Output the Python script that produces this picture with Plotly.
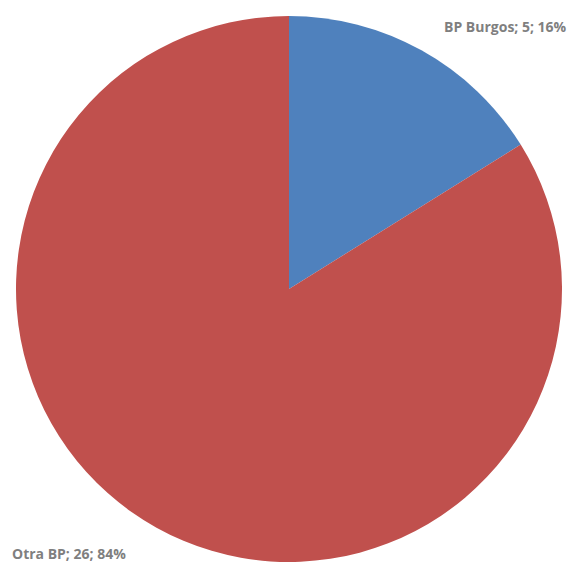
import plotly.graph_objects as go

labels = ["BP Burgos", "Otra BP"]
values = [5, 26]
colors = ["#4F81BD", "#C0504D"]

total = sum(values)
texts = [f"{l}; {v}; {round(v / total * 100)}%" for l, v in zip(labels, values)]

W, H = 579, 565
OFF = 8  # page body margin offset
fig = go.Figure()
fig.add_trace(go.Pie(
    labels=labels,
    values=values,
    sort=False,
    direction="clockwise",
    rotation=0,
    marker=dict(colors=colors, line=dict(width=0)),
    textinfo="none",
    hoverinfo="label+value+percent",
    showlegend=False,
    domain=dict(x=[(15 - OFF) / W, (563 - OFF) / W],
                y=[1 - (562 - OFF) / H, 1 - (16 - OFF) / H]),
))

fig.add_annotation(x=(569 - OFF) / W, y=1 - (27 - OFF) / H, xref="paper", yref="paper",
                   text=f"<b>{texts[0]}</b>", showarrow=False, xanchor="right", yanchor="middle",
                   font=dict(family="Open Sans", size=14, color="#7F7F7F"))
fig.add_annotation(x=(10 - OFF) / W, y=1 - (553 - OFF) / H, xref="paper", yref="paper",
                   text=f"<b>{texts[1]}</b>", showarrow=False, xanchor="left", yanchor="middle",
                   font=dict(family="Open Sans", size=14, color="#7F7F7F"))

fig.update_layout(width=W, height=H, margin=dict(l=0, r=0, t=0, b=0),
                  paper_bgcolor="white", plot_bgcolor="white")
fig.write_html("out.html")
